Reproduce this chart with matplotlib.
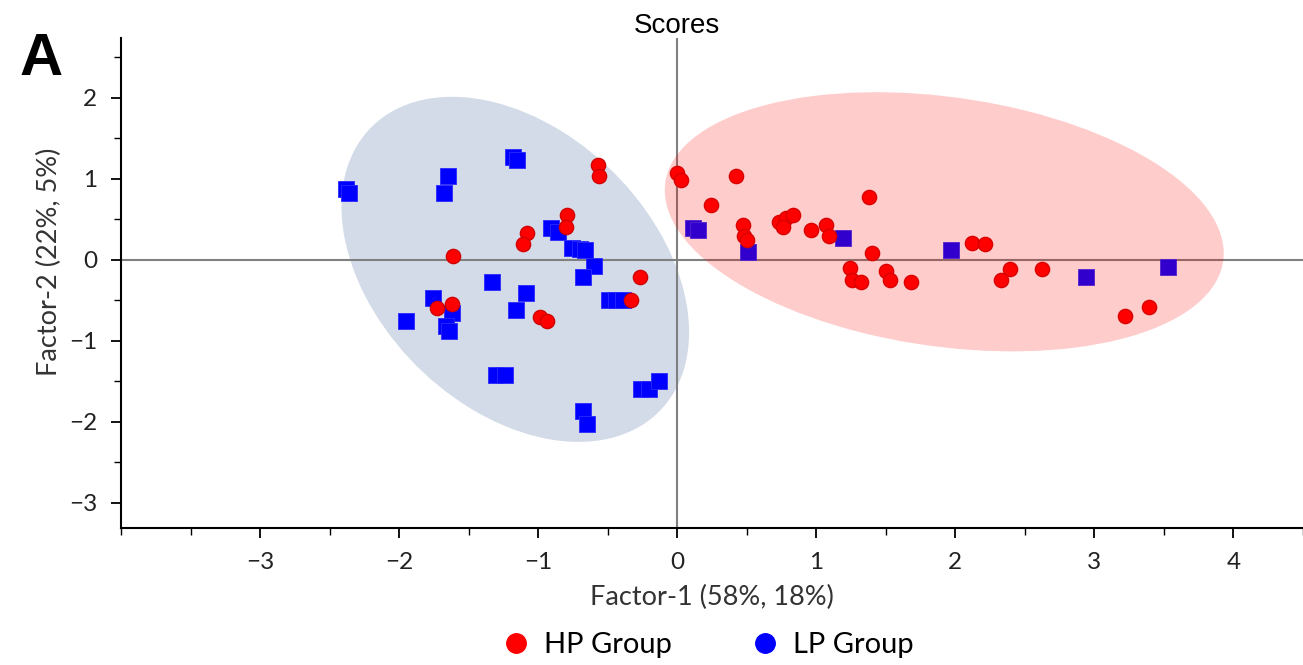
import matplotlib
matplotlib.use("Agg")
import matplotlib.pyplot as plt
import numpy as np
from matplotlib.patches import Ellipse
from matplotlib.lines import Line2D
from matplotlib.ticker import MultipleLocator
import matplotlib.transforms as mtransforms

# HP group scores (red circles)
hp_x = [-0.57, -0.56, -0.79, -0.80, -1.08, -1.11, -1.61, -0.27, -0.33, -1.73, -1.62, -0.99, -0.94,
        0.00, 0.03, 0.42, 0.24, 0.47, 0.48, 0.50, 0.73, 0.78, 0.83, 0.76, 0.96, 1.07, 1.09, 1.38,
        1.40, 1.24, 1.26, 1.32, 1.50, 1.53, 1.68, 2.12, 2.21, 2.39, 2.33, 2.62, 3.22, 3.39]
hp_y = [1.17, 1.03, 0.56, 0.41, 0.33, 0.19, 0.05, -0.21, -0.49, -0.60, -0.54, -0.71, -0.76,
        1.07, 0.99, 1.03, 0.68, 0.43, 0.29, 0.25, 0.47, 0.52, 0.56, 0.40, 0.37, 0.43, 0.29, 0.78,
        0.08, -0.10, -0.25, -0.27, -0.14, -0.25, -0.27, 0.21, 0.20, -0.11, -0.25, -0.11, -0.69, -0.58]

# LP group scores (blue squares)
lp_x = [-2.38, -2.36, -1.18, -1.15, -1.65, -1.68, -0.91, -0.86, -0.755, -0.70, -0.66, -0.60, -0.68,
        -0.49, -0.44, -0.39, -1.33, -1.09, -1.16, -1.76, -1.62, -1.66, -1.64, -1.95, -1.30, -1.24,
        -0.26, -0.20, -0.13, -0.68, -0.65, 0.11, 0.15, 0.51, 1.19, 1.97, 2.94, 3.53]
lp_y = [0.88, 0.82, 1.27, 1.23, 1.03, 0.82, 0.39, 0.35, 0.15, 0.13, 0.12, -0.08, -0.21,
        -0.49, -0.49, -0.49, -0.27, -0.41, -0.62, -0.47, -0.66, -0.82, -0.88, -0.75, -1.42, -1.42,
        -1.60, -1.60, -1.50, -1.87, -2.02, 0.39, 0.37, 0.10, 0.27, 0.12, -0.21, -0.09]

# group ellipses: centre and shape matrix [[sxx, sxy], [sxy, syy]]
lp_center = (-1.165, -0.117)
lp_shape = [[1.5625, -0.97], [-0.97, 4.537]]
hp_center = (1.92, 0.47)
hp_shape = [[4.04, -0.78], [-0.78, 2.56]]

xticks = [-3, -2, -1, 0, 1, 2, 3, 4]
yticks = [-3, -2, -1, 0, 1, 2]


def group_ellipse(center, shape, color, alpha, z):
    vals, vecs = np.linalg.eigh(np.array(shape))
    ang = np.degrees(np.arctan2(vecs[1, 1], vecs[0, 1]))
    return Ellipse(center, 2*np.sqrt(vals[1]), 2*np.sqrt(vals[0]), angle=ang,
                   facecolor=color, edgecolor="none", alpha=alpha, zorder=z)


plt.rcParams["font.family"] = ["Lato", "DejaVu Sans"]

fig = plt.figure(figsize=(13.03, 6.65), dpi=100)
ax = fig.add_axes([0.0929, 0.206, 0.9071, 0.737])

ax.axhline(0, color="#808080", lw=1.5, zorder=1)
ax.axvline(0, color="#808080", lw=1.5, zorder=1)

# blue ellipse sits under the points, red one over them
ax.add_patch(group_ellipse(lp_center, lp_shape, "#d3dbe8", 1.0, 0.5))

ax.scatter(lp_x, lp_y, marker="s", s=120, color="#0000ff", edgecolors="#2a2aff",
           linewidths=0.6, zorder=3)
ax.scatter(hp_x, hp_y, marker="o", s=105, color="#ff0000", edgecolors="#d00000",
           linewidths=1.0, zorder=3)

ax.add_patch(group_ellipse(hp_center, hp_shape, "#ff0000", 0.2, 4))

ax.set_xlim(-4.0, 4.5)
ax.set_ylim(-3.31, 2.74)
ax.set_xticks(xticks)
ax.set_yticks(yticks)
ax.xaxis.set_minor_locator(MultipleLocator(0.5))
ax.yaxis.set_minor_locator(MultipleLocator(0.5))
ax.tick_params(which="major", direction="out", length=7, width=1.3, labelsize=17.5,
               labelcolor="#222222", pad=10)
ax.tick_params(which="minor", direction="out", length=5, width=1.0)

for s in ["top", "right"]:
    ax.spines[s].set_visible(False)
for s in ["left", "bottom"]:
    ax.spines[s].set_linewidth(1.5)

ax.set_xlabel("Factor-1 (58%, 18%)", fontsize=19.5, color="#333333", labelpad=9)
ax.set_ylabel("Factor-2 (22%, 5%)", fontsize=19.5, color="#333333")
ax.yaxis.set_label_coords(-0.05, 0.543)

trans = mtransforms.blended_transform_factory(ax.transData, fig.transFigure)
ax.text(0, 0.961, "Scores", transform=trans, ha="center", va="center",
        fontsize=20, family=["Liberation Sans", "DejaVu Sans"])

fig.text(0.015, 0.952, "A", fontsize=43, fontweight="bold", va="top", ha="left",
         family=["Liberation Sans", "DejaVu Sans"])

handles = [Line2D([], [], marker="o", ls="none", color="#ff0000", markersize=14, label="HP Group"),
           Line2D([], [], marker="o", ls="none", color="#0000ff", markersize=14, label="LP Group")]
fig.legend(handles=handles, loc="center", bbox_to_anchor=(0.542, 0.03), ncol=2, frameon=False,
           fontsize=21, handletextpad=0.35, columnspacing=2.6, handlelength=1.2)

fig.savefig("out.png", dpi=100)
